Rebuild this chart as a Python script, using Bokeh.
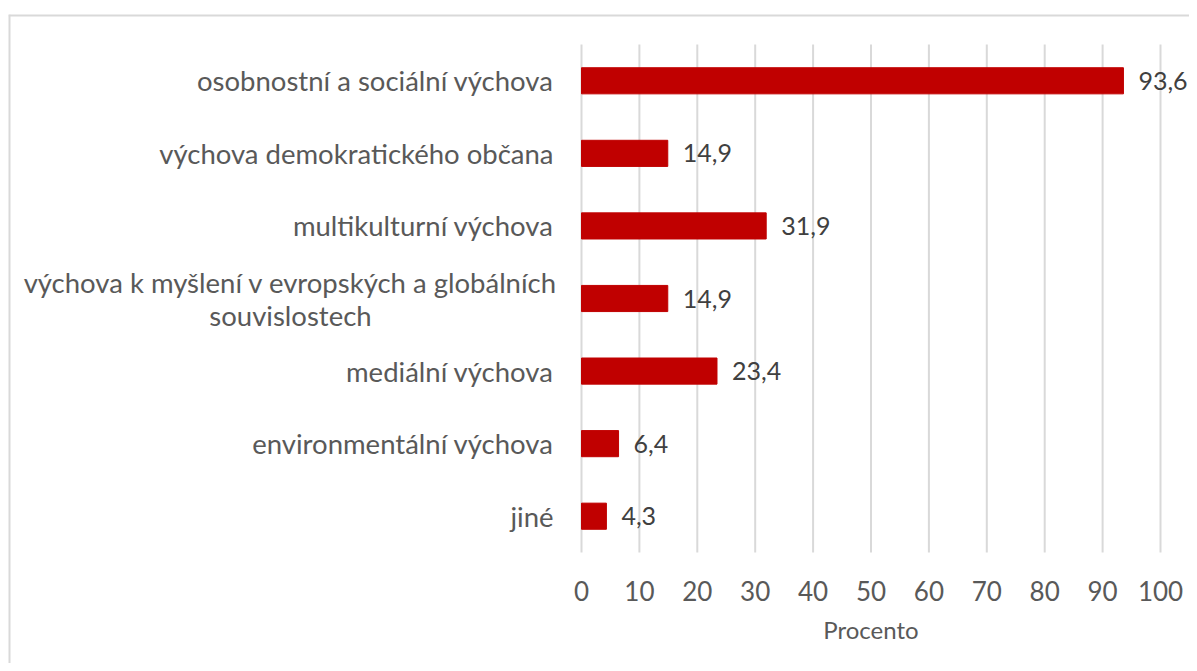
from bokeh.plotting import figure
from bokeh.models import Range1d, Span
from bokeh.core.properties import value
from bokeh.embed import file_html
from bokeh.resources import INLINE

categories = [
    "osobnostní a sociální výchova",
    "výchova demokratického občana",
    "multikulturní výchova",
    "výchova k myšlení v evropských a globálních\nsouvislostech",
    "mediální výchova",
    "environmentální výchova",
    "jiné",
]
values = [93.6, 14.9, 31.9, 14.9, 23.4, 6.4, 4.3]
value_labels = ["93,6", "14,9", "31,9", "14,9", "23,4", "6,4", "4,3"]
x_ticks = [0, 10, 20, 30, 40, 50, 60, 70, 80, 90, 100]
x_title = "Procento"

FONT = value("Lato")
GRID = "#d9d9d9"
TXT = "#595959"
n = len(categories)
ys = [n - i - 0.5 for i in range(n)]

W, H = 1189, 663
LEFT, TOP = 8, 14          # chart frame border position on canvas
X0PX, X100PX = 581, 1160   # pixel positions of 0 and 100
YTOP, YBOT = 44, 552       # pixel extent of the category band
px_per_x = (X100PX - X0PX) / 100
px_per_y = (YBOT - YTOP) / n
x0 = -(X0PX - LEFT) / px_per_x
x1 = 100 + (W - X100PX) / px_per_x
y1 = n + (YTOP - TOP) / px_per_y
y0 = -(H - YBOT) / px_per_y

p = figure(width=W, height=H, output_backend="svg", toolbar_location=None,
           x_range=Range1d(x0, x1), y_range=Range1d(y0, y1),
           x_axis_type=None, y_axis_type=None,
           min_border=0, min_border_top=TOP, min_border_left=LEFT)
p.outline_line_color = None
p.background_fill_color = "white"
p.border_fill_color = "white"
p.grid.visible = False

# chart border (top and left visible)
p.add_layout(Span(location=y1, dimension="width", line_color=GRID, line_width=4))
p.add_layout(Span(location=x0, dimension="height", line_color=GRID, line_width=4))

# vertical gridlines
p.segment(x0=x_ticks, y0=[0] * len(x_ticks), x1=x_ticks, y1=[n] * len(x_ticks),
          line_color=GRID, line_width=2)

# bars
p.hbar(y=ys, right=values, left=0, height=0.36,
       fill_color="#C00000", line_color="#C00000")

# value labels
p.text(x=values, y=ys, text=value_labels, x_offset=15,
       text_baseline="middle", text_align="left",
       text_font=FONT, text_font_size="25px", text_color="#404040")

# category labels
single = [(c, y) for c, y in zip(categories, ys) if "\n" not in c]
multi = [(c, y) for c, y in zip(categories, ys) if "\n" in c]
p.text(x=[0] * len(single), y=[y for _, y in single], text=[c for c, _ in single],
       x_offset=-28, text_align="right", text_baseline="middle",
       text_font=FONT, text_font_size="27.5px", text_color=TXT)
p.text(x=[0] * len(multi), y=[y for _, y in multi], text=[c for c, _ in multi],
       x_offset=-291, text_align="center", text_baseline="middle",
       text_line_height=1.0,
       text_font=FONT, text_font_size="27.5px", text_color=TXT)

# x tick labels
p.text(x=x_ticks, y=[0] * len(x_ticks), text=[str(t) for t in x_ticks],
       y_offset=38, text_align="center", text_baseline="middle",
       text_font=FONT, text_font_size="26px", text_color=TXT)

# x axis title
p.text(x=[50], y=[0], text=[x_title], y_offset=77,
       text_align="center", text_baseline="middle",
       text_font=FONT, text_font_size="24px", text_color=TXT)

open("out.html", "w").write(file_html(p, INLINE))
